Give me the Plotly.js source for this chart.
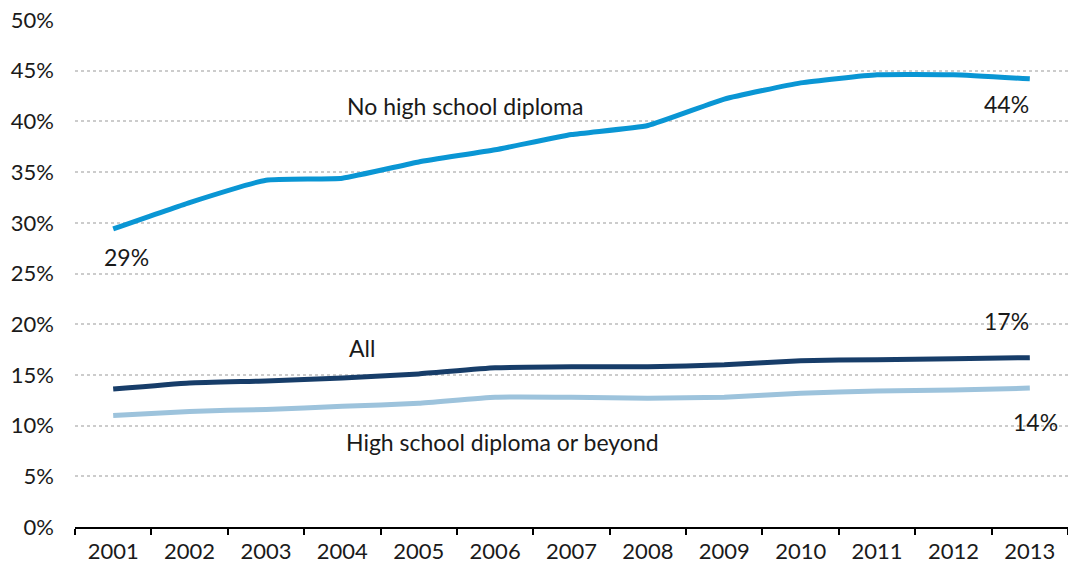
<!DOCTYPE html>
<html>
<head>
<meta charset="utf-8">
<script src="https://cdn.plot.ly/plotly-3.0.1.min.js"></script>
<style>html,body{margin:0;padding:0;background:#fff}#chart{width:1068px;height:570px}</style>
</head>
<body>
<div id="chart"></div>
<script>
const years = ["2001","2002","2003","2004","2005","2006","2007","2008","2009","2010","2011","2012","2013"];
const noDiploma = [29.4, 32.0, 34.2, 34.4, 36.0, 37.2, 38.7, 39.6, 42.2, 43.8, 44.6, 44.6, 44.2];
const allAdults = [13.6, 14.2, 14.4, 14.7, 15.1, 15.7, 15.8, 15.8, 16.0, 16.4, 16.5, 16.6, 16.7];
const diplomaOrBeyond = [11.0, 11.4, 11.6, 11.9, 12.2, 12.8, 12.8, 12.7, 12.8, 13.2, 13.4, 13.5, 13.7];
const yTicks = [0,5,10,15,20,25,30,35,40,45,50];
const yTickLabels = yTicks.map(v => v + "%");

const font = "Lato, 'Open Sans', sans-serif";
const traces = [
  {x: years, y: noDiploma, name: "No high school diploma", type: "scatter", mode: "lines",
   line: {color: "#0a96d4", width: 5, shape: "spline", smoothing: 0.4}},
  {x: years, y: allAdults, name: "All", type: "scatter", mode: "lines",
   line: {color: "#173d69", width: 5, shape: "spline", smoothing: 0.4}},
  {x: years, y: diplomaOrBeyond, name: "High school diploma or beyond", type: "scatter", mode: "lines",
   line: {color: "#9dc3dc", width: 5, shape: "spline", smoothing: 0.4}}
];

const ann = (x, y, text, xanchor) => ({x: x, y: y, xref: "x", yref: "y", text: text, showarrow: false,
  xanchor: xanchor || "center", yanchor: "middle", font: {family: font, size: 23, color: "#1a1a1a"}});

const layout = {
  width: 1068, height: 570,
  margin: {l: 75, r: 0, t: 20, b: 43},
  paper_bgcolor: "#fff", plot_bgcolor: "#fff",
  showlegend: false,
  font: {family: font, size: 22, color: "#1a1a1a"},
  xaxis: {
    type: "category", range: [-0.5, 12.5],
    showline: true, linecolor: "#000", linewidth: 2,
    ticks: "outside", tickson: "boundaries", ticklen: 6, tickwidth: 2, tickcolor: "#000",
    showgrid: false, zeroline: false, ticklabelstandoff: 4,
    tickfont: {family: font, size: 22, color: "#1a1a1a"}
  },
  yaxis: {
    range: [0, 50], tickvals: yTicks, ticktext: yTickLabels,
    showline: false, zeroline: false,
    showgrid: true, gridcolor: "#cccccc", gridwidth: 2, griddash: "dot",
    ticks: "", ticklabelstandoff: 20,
    tickfont: {family: font, size: 22, color: "#1a1a1a"}
  },
  annotations: [
    ann(4.6, 41.5, "No high school diploma"),
    ann(0.18, 26.6, "29%"),
    ann(11.7, 41.7, "44%"),
    ann(3.26, 17.7, "All"),
    ann(11.7, 20.3, "17%"),
    ann(5.1, 8.4, "High school diploma or beyond"),
    ann(12.07, 10.4, "14%")
  ]
};

Plotly.newPlot("chart", traces, layout, {displayModeBar: false, staticPlot: true});
</script>
</body>
</html>
